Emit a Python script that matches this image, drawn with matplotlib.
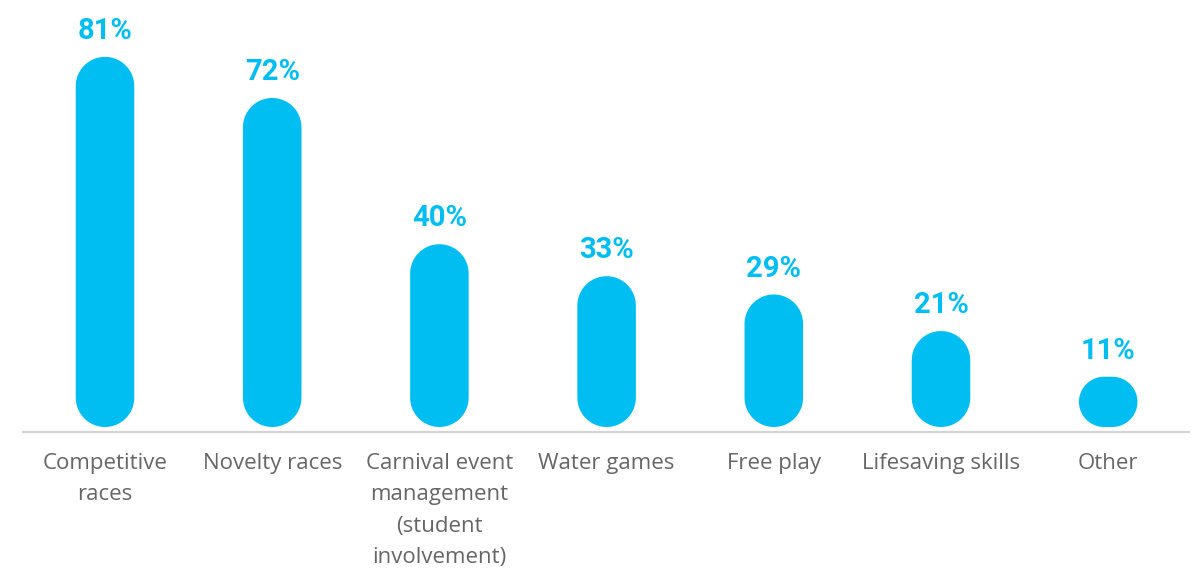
import matplotlib
matplotlib.use("Agg")
from matplotlib import pyplot as plt
from matplotlib.patches import Polygon
import numpy as np

# Chart data
categories = ["Competitive\nraces", "Novelty races", "Carnival event\nmanagement\n(student\ninvolvement)",
              "Water games", "Free play", "Lifesaving skills", "Other"]
values = [81, 72, 40, 33, 29, 21, 11]

barColor = "#00BEF2"
pxPerUnitX = 167.2   # pixels between bar centres
pxPerUnitY = 4.57    # pixels per percent


def roundedBar(x, h, w, aspect):
    # rounded rectangle polygon in data coords, corners circular on screen
    r = min(w / 2, h / aspect / 2)
    ry = r * aspect
    t = np.linspace(0, np.pi / 2, 20)
    pts = []
    corners = [(x + w / 2 - r, h - ry, 0), (x - w / 2 + r, h - ry, np.pi / 2),
               (x - w / 2 + r, ry, np.pi), (x + w / 2 - r, ry, 1.5 * np.pi)]
    for cx, cy, a0 in corners:
        pts.append(np.column_stack([cx + r * np.cos(t + a0), cy + ry * np.sin(t + a0)]))
    return np.vstack(pts)


fig = plt.figure(figsize = (11.98, 5.69), dpi = 100)
ax = fig.add_axes([0, 0, 1, 1])
ax.set_xlim(-105 / pxPerUnitX, (1198 - 105) / pxPerUnitX)
ax.set_ylim(-142 / pxPerUnitY, (569 - 142) / pxPerUnitY)
ax.axis("off")

aspect = pxPerUnitX / pxPerUnitY
w = 0.35
for i, v in enumerate(values):
    ax.add_patch(Polygon(roundedBar(i, v, w, aspect), closed = True,
                         facecolor = barColor, edgecolor = "none"))
    ax.text(i, v + 2.6, "%d%%" % v, ha = "center", va = "bottom",
            fontsize = 21, fontweight = "bold", color = barColor, family = "Roboto")
    ax.text(i, -5.7, categories[i], ha = "center", va = "top", fontsize = 16,
            color = "#666666", family = "Open Sans", linespacing = 1.65)

# baseline
ax.plot([-0.496, 6.489], [-1.1, -1.1], color = "#d4d4d4", lw = 1.6, solid_capstyle = "butt")

fig.savefig("out.png", dpi = 100)
